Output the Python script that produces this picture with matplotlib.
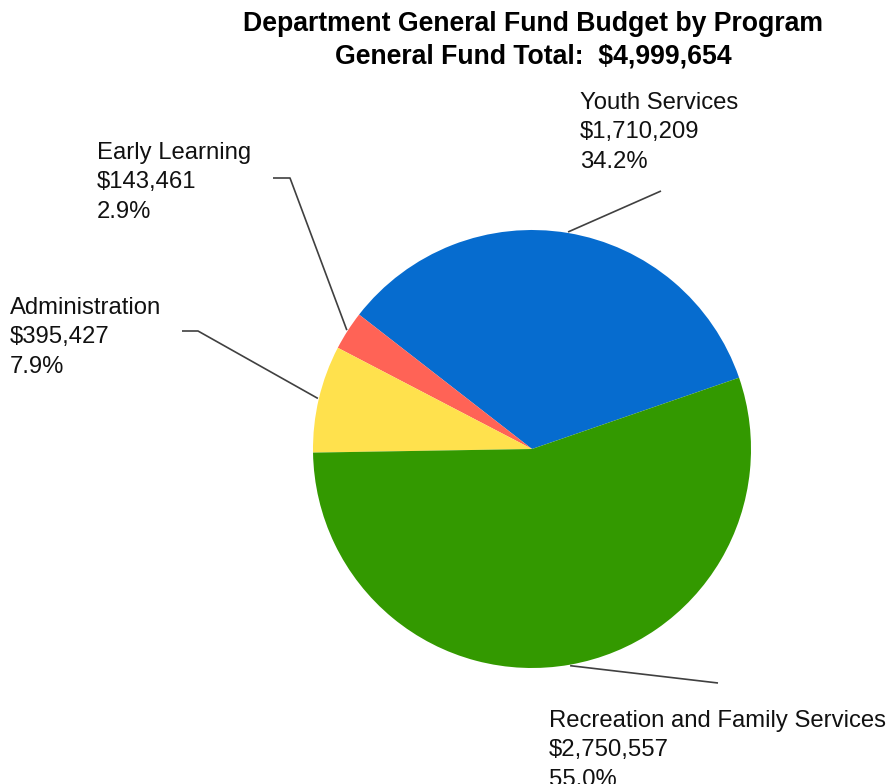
import numpy as np
import matplotlib.pyplot as plt

plt.rcParams['font.family'] = ['Liberation Sans', 'DejaVu Sans']

# data
programs = ['Youth Services', 'Early Learning', 'Administration',
            'Recreation and Family Services']
amounts = [1710209, 143461, 395427, 2750557]
colors = ['#066ccf', '#ff6356', '#ffe14d', '#339900']

# label layout in pixels (top-left origin): text left/top and leader elbows
label_pos = [(580, 92), (97, 142), (10, 297), (549, 710)]
elbows = [[(661, 191)],
          [(290, 178), (273, 178)],
          [(198, 331), (182, 331)],
          [(718, 683)]]

W, H = 889, 784
fig = plt.figure(figsize=(W / 100, H / 100), dpi=100)
ax = fig.add_axes([0, 0, 1, 1])

cx, cy, r = 532, H - 449, 219
wedges, _ = ax.pie(amounts, colors=colors, startangle=19, counterclock=True,
                   center=(cx, cy), radius=r,
                   wedgeprops=dict(linewidth=0))
ax.set_xlim(0, W)
ax.set_ylim(0, H)
ax.set_aspect('equal')
ax.axis('off')

total = sum(amounts)
for w, name, amt, (lx, ly), elb in zip(wedges, programs, amounts, label_pos, elbows):
    mid = np.deg2rad((w.theta1 + w.theta2) / 2)
    x0 = cx + (r + 1) * np.cos(mid)
    y0 = cy + (r + 1) * np.sin(mid)
    xs = [x0] + [p[0] for p in elb]
    ys = [y0] + [H - p[1] for p in elb]
    ax.plot(xs, ys, color='#404040', lw=1.2, solid_capstyle='butt')
    txt = '%s\n$%s\n%.1f%%' % (name, format(amt, ','), amt / total * 100)
    ax.text(lx, H - ly + 0.5, txt.replace('$', r'\$'), ha='left', va='top',
            fontsize=17.2, color='#111111', linespacing=1.45)

fig.text(533 / W, 1 - 11 / H,
         'Department General Fund Budget by Program\nGeneral Fund Total:  $%s' % format(total, ','),
         ha='center', va='top', fontsize=19.2, fontweight='bold', linespacing=1.32)

fig.savefig('out.png', dpi=100)
